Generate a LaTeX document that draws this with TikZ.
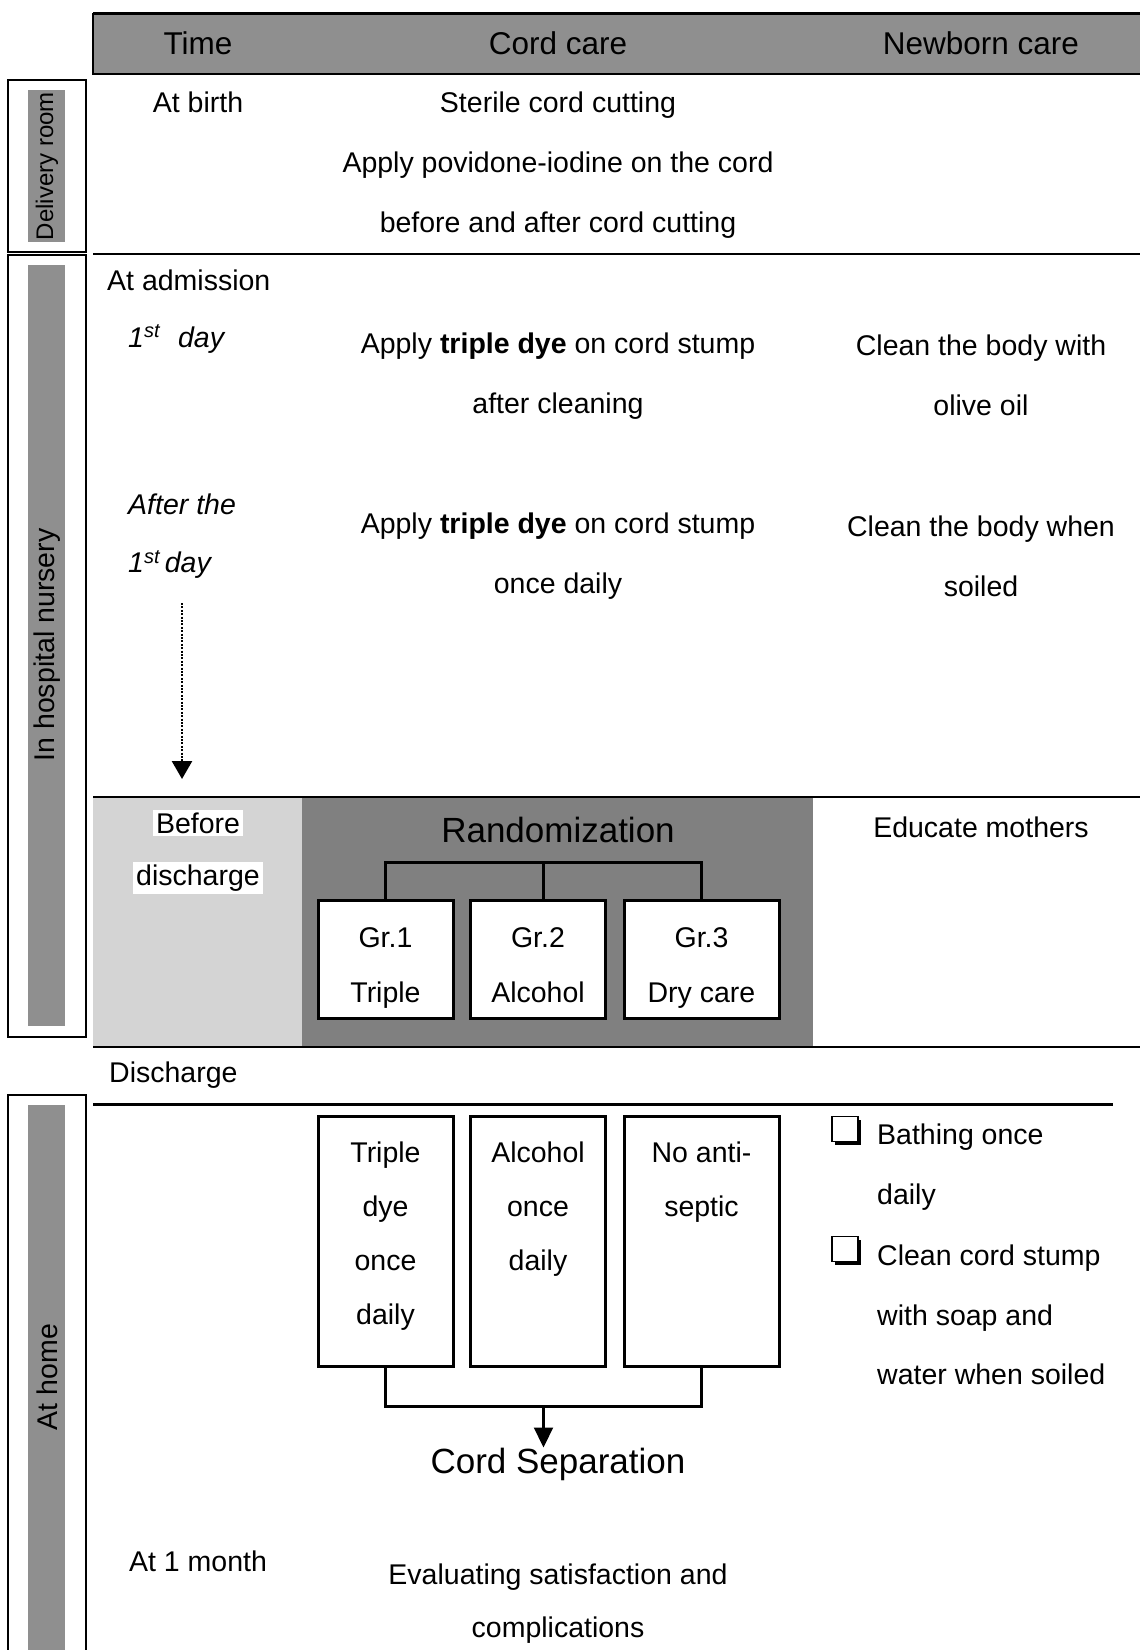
\documentclass[tikz,border=0pt]{standalone}
\usepackage{fontspec}
\setmainfont{Liberation Sans}
\usetikzlibrary{positioning,arrows.meta,shadows,calc}
\definecolor{bargray}{gray}{0.56}
\definecolor{darkbg}{gray}{0.5}
\definecolor{lightbg}{gray}{0.83}

\begin{document}
\begin{tikzpicture}[x=1pt,y=-1pt,>={Triangle[length=20pt,width=19pt]},
	txt/.style={font=\fontsize{28.5}{60}\selectfont,align=center,inner sep=0pt},
	hdr/.style={font=\fontsize{31.5}{36}\selectfont},
	side/.style={draw,line width=1.8pt},
	vlab/.style={rotate=90,font=\fontsize{28.5}{34}\selectfont},
	grp/.style={draw,line width=3pt,fill=white,inner sep=0pt,minimum width=135pt},
	comb/.style={line width=2.2pt},
	rowline/.style={line width=2pt},
	chk/.style={draw,line width=1.6pt,fill=white,minimum width=26pt,minimum height=25pt,inner sep=0pt,
		drop shadow={shadow xshift=3pt,shadow yshift=-3.5pt,opacity=1,fill=black}}]
	\useasboundingbox (0,0) rectangle (1140,1650);
	\fill[bargray] (93,13) rectangle (1140,74);
	\draw[line width=3pt] (93,13) -- (1140,13);
	\draw[line width=1.5pt] (1140,74) -- (93,74) -- (93,13);
	\node[hdr] (htime) at (198,43) {Time};
	\node[hdr] (hcord) at (558,43) {Cord care};
	\node[hdr] (hborn) at (981,43) {Newborn care};
	\draw[side] (8,80) rectangle (86,252);
	\fill[bargray] (28,90) rectangle (65,242);
	\node[vlab,font=\fontsize{24}{28}\selectfont] (deliv) at (47,166) {Delivery room};
	\draw[side] (8,255) rectangle (86,1037);
	\fill[bargray] (28,265) rectangle (65,1026);
	\node[vlab] (nurs) at (47,645) {In hospital nursery};
	\draw[side] (8,1095) rectangle (86,1670);
	\fill[bargray] (28,1105) rectangle (65,1650);
	\node[vlab] (home) at (47,1377) {At home};
	\fill[lightbg] (93,797) rectangle (302,1046);
	\fill[darkbg] (302,797) rectangle (813,1046);
	\draw[rowline] (93,254) -- (1140,254);
	\draw[rowline] (93,797) -- (1140,797);
	\draw[rowline] (93,1047) -- (1140,1047);
	\draw[line width=3pt] (93,1104) -- (1113,1104);
	\node[txt] (birth) at (198,102) {At birth};
	\node[txt] (cut) at (558,165) {Sterile cord cutting\\Apply povidone-iodine on the cord\\before and after cord cutting};
	\node[txt,anchor=west] (adm) at (107,280) {At admission};
	\node[txt,anchor=west] (day1) at (128,339) {\itshape 1\textsuperscript{st}\hspace{18pt}day};
	\node[txt] (dye1) at (558,376) {Apply \textbf{triple dye} on cord stump\\after cleaning};
	\node[txt] (oil) at (981,375) {Clean the body with\\olive oil};
	\node[txt,align=left,anchor=west,font=\fontsize{28.5}{58}\selectfont\itshape] (after) at (128,536) {After the\\1\textsuperscript{st}\,day};
	\node[txt] (dye2) at (558,556) {Apply \textbf{triple dye} on cord stump\\once daily};
	\node[txt] (soil) at (981,556) {Clean the body when\\soiled};
	\coordinate (dtop) at (182,603);
	\coordinate (dbot) at (182,779);
	\draw[->,line width=2.6pt,dash pattern=on 2pt off 1.4pt,>={Triangle[length=18pt,width=20pt]}] (dtop) -- (dbot);
	\node[txt,fill=white,inner sep=3pt] (bef) at (198,823) {Before};
	\node[txt,fill=white,inner sep=3pt] (disc) at (198,878) {discharge};
	\node[txt,font=\fontsize{35}{40}\selectfont] (rand) at (558,830) {Randomization};
	\node[txt] (edu) at (981,827) {Educate mothers};
	\node[grp,minimum height=118pt] (g1) at (385.5,959) {};
	\node[grp,minimum height=118pt] (g2) at (538,959) {};
	\node[grp,minimum height=118pt,minimum width=155pt] (g3) at (701.5,959) {};
	\node[txt,font=\fontsize{28.5}{55}\selectfont,below=29pt of g1.north] (g1t) {Gr.1\\Triple};
	\node[txt,font=\fontsize{28.5}{55}\selectfont,below=29pt of g2.north] (g2t) {Gr.2\\Alcohol};
	\node[txt,font=\fontsize{28.5}{55}\selectfont,below=29pt of g3.north] (g3t) {Gr.3\\Dry care};
	\draw[comb] (g1.north) -- ++(0,-36) coordinate (t1) -| (g3.north);
	\draw[comb] ($(t1)!.5!(g3.north|-t1)$) -- ++(0,36);
	\node[txt,anchor=west] (disch) at (109,1075) {Discharge};
	\node[grp,minimum height=250pt] (h1) at (385.5,1241) {};
	\node[grp,minimum height=250pt] (h2) at (538,1241) {};
	\node[grp,minimum height=250pt,minimum width=155pt] (h3) at (701.5,1241) {};
	\node[txt,font=\fontsize{28.5}{54}\selectfont,below=27pt of h1.north] (h1t) {Triple\\dye\\once\\daily};
	\node[txt,font=\fontsize{28.5}{54}\selectfont,below=27pt of h2.north] (h2t) {Alcohol\\once\\daily};
	\node[txt,font=\fontsize{28.5}{54}\selectfont,below=27pt of h3.north] (h3t) {No anti-\\septic};
	\draw[comb] (h1.south) -- ++(0,39) coordinate (b1) -| (h3.south);
	\coordinate (bm) at ($(b1)!.5!(h3.south|-b1)$);
	\node[txt,font=\fontsize{35}{40}\selectfont] (sep) at (558,1464) {Cord Separation};
	\draw[comb,->] (bm) -- (bm|-sep.north);
	\node[chk] (cb1) at (845,1129) {};
	\node[chk] (cb2) at (845,1249) {};
	\node[txt,align=left,anchor=west,font=\fontsize{28.5}{59.5}\selectfont] (bath) at (877,1167) {Bathing once\\daily};
	\node[txt,align=left,anchor=west,font=\fontsize{28.5}{59.5}\selectfont] (clean) at (877,1315) {Clean cord stump\\with soap and\\water when soiled};
	\node[txt] (month) at (198,1561) {At 1 month};
	\node[txt,font=\fontsize{28.5}{53}\selectfont] (eval) at (558,1604) {Evaluating satisfaction and\\complications};
\end{tikzpicture}
\end{document}
